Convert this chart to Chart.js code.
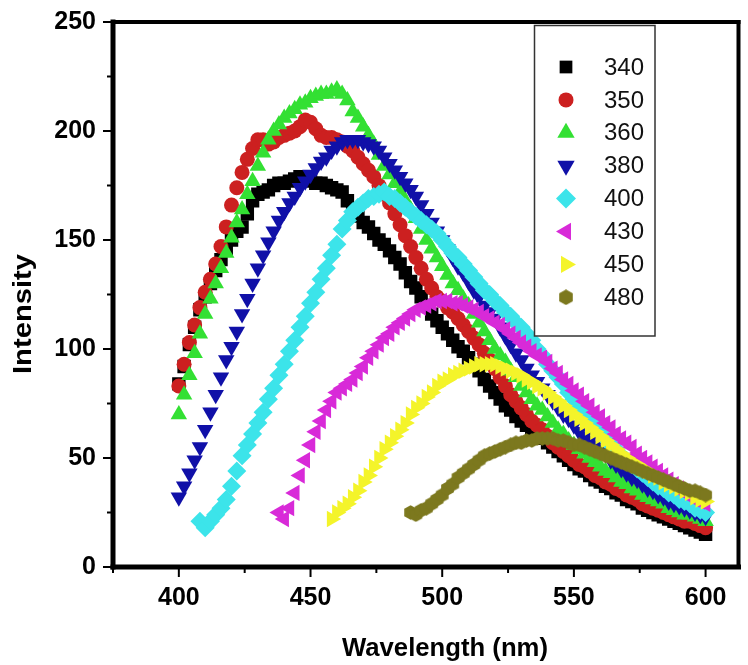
<!DOCTYPE html>
<html>
<head>
<meta charset="utf-8">
<script src="https://cdn.jsdelivr.net/npm/chart.js@4.4.1/dist/chart.umd.min.js"></script>
<style>
  html, body { margin: 0; padding: 0; background: #fff; }
  #chart { display: block; }
</style>
</head>
<body>
<canvas id="chart" width="748" height="665"></canvas>
<script>
// excitation wavelengths (legend entries)
const seriesLabels = ['340', '350', '360', '380', '400', '430', '450', '480'];
// first emission wavelength of each curve, sampled every 2 nm up to 600 nm
const startNm = [400, 400, 400, 400, 408, 438, 458, 488];
const STEP = 2;

const int340 = [84, 92, 102, 110, 118, 124, 130, 136, 141, 146,
  150, 154, 156, 162, 168, 171, 172, 173, 175, 176,
  176, 177, 178, 179, 177, 178, 176, 176, 175, 174,
  173, 172, 168, 164, 161, 158, 156, 153, 150, 148,
  145, 142, 139, 135, 131, 128, 124, 120, 116, 113,
  110, 107, 104, 101, 99, 96, 93, 90, 86, 83,
  80, 77, 74, 72, 69, 67, 65, 63, 61, 59,
  57, 55, 53, 51, 49, 47, 45, 44, 42, 40,
  39, 37, 36, 34, 33, 31, 30, 29, 27, 26,
  25, 24, 23, 22, 21, 20, 19, 18, 17, 16,
  15];
const int350 = [83, 93, 103, 111, 119, 126, 132, 139, 147, 156,
  166, 174, 181, 187, 192, 196, 196, 194, 195, 197,
  198, 199, 200, 202, 205, 204, 201, 198, 197, 197,
  196, 195, 193, 191, 188, 185, 182, 179, 175, 171,
  167, 162, 157, 152, 147, 142, 137, 132, 128, 124,
  122, 119, 117, 114, 111, 108, 105, 102, 98, 95,
  91, 87, 83, 79, 76, 73, 70, 67, 65, 63,
  60, 57, 55, 53, 51, 49, 47, 46, 44, 42,
  41, 39, 38, 36, 35, 33, 32, 31, 29, 28,
  27, 26, 25, 24, 23, 22, 21, 21, 20, 19,
  18];
const int360 = [70, 79, 88, 98, 107, 116, 123, 130, 137, 144,
  151, 158, 164, 171, 177, 184, 190, 196, 200, 203,
  206, 208, 210, 212, 213, 215, 216, 217, 217, 218,
  219, 217, 214, 209, 206, 202, 198, 194, 189, 184,
  180, 176, 172, 168, 164, 160, 155, 150, 146, 142,
  138, 134, 130, 127, 123, 120, 116, 112, 108, 104,
  100, 97, 94, 90, 87, 83, 80, 77, 74, 72,
  69, 66, 63, 61, 58, 56, 54, 52, 50, 48,
  46, 44, 43, 41, 39, 38, 36, 35, 33, 32,
  31, 30, 29, 27, 26, 25, 24, 24, 23, 22,
  21];
const int380 = [32, 37, 43, 49, 55, 63, 71, 79, 87, 95,
  101, 108, 116, 123, 130, 137, 143, 149, 154, 159,
  163, 167, 170, 174, 177, 180, 183, 186, 188, 191,
  193, 195, 196, 196, 196, 195, 194, 193, 191, 188,
  185, 182, 179, 176, 173, 170, 166, 162, 158, 154,
  150, 146, 142, 138, 135, 131, 127, 124, 120, 117,
  114, 110, 106, 102, 98, 95, 91, 88, 85, 82,
  79, 76, 73, 70, 68, 65, 62, 60, 58, 56,
  54, 52, 49, 47, 45, 43, 41, 40, 38, 36,
  35, 33, 32, 30, 29, 28, 27, 26, 25, 24,
  23];
const int400 = [21, 18, 21, 24, 27, 31, 37, 44, 51, 56,
  61, 66, 71, 77, 82, 88, 93, 99, 104, 110,
  115, 121, 126, 132, 137, 143, 148, 155, 159, 163,
  165, 167, 169, 170, 171, 172, 170, 169, 167, 165,
  163, 161, 159, 157, 155, 153, 150, 147, 144, 142,
  139, 136, 133, 130, 127, 125, 122, 120, 117, 115,
  112, 110, 107, 104, 100, 97, 93, 90, 87, 84,
  80, 77, 74, 71, 68, 65, 62, 59, 56, 54,
  51, 49, 47, 45, 43, 41, 39, 37, 36, 34,
  33, 31, 30, 29, 27, 26, 25];
const int430 = [25, 22, 27, 34, 42, 49, 56, 62, 67, 72,
  76, 80, 82, 84, 86, 89, 92, 96, 99, 102,
  105, 107, 110, 112, 114, 116, 118, 119, 120, 121,
  122, 122, 122, 121, 121, 120, 119, 118, 117, 115,
  114, 112, 111, 109, 107, 105, 103, 101, 99, 97,
  96, 94, 91, 89, 86, 84, 81, 79, 76, 74,
  71, 69, 66, 64, 61, 59, 57, 55, 52, 50,
  48, 46, 44, 42, 40, 38, 36, 34, 33, 31,
  30, 29];
const int450 = [22, 25, 27, 29, 32, 35, 39, 42, 46, 50,
  54, 57, 60, 63, 66, 70, 73, 75, 78, 80,
  83, 85, 86, 88, 89, 90, 91, 92, 93, 93,
  93, 93, 92, 91, 90, 89, 88, 86, 85, 83,
  82, 80, 78, 76, 74, 72, 70, 68, 66, 64,
  62, 60, 58, 56, 54, 52, 50, 48, 47, 45,
  44, 42, 41, 39, 38, 37, 36, 35, 34, 32,
  31, 30];
const int480 = [25, 24, 26, 27, 29, 31, 33, 36, 38, 41,
  43, 45, 47, 49, 51, 52, 53, 54, 55, 56,
  57, 57, 58, 58, 59, 59, 59, 59, 58, 58,
  57, 56, 56, 55, 54, 53, 52, 51, 50, 49,
  48, 47, 46, 45, 44, 43, 42, 41, 40, 39,
  38, 37, 36, 35, 35, 34, 33];

const intensities = [int340, int350, int360, int380, int400, int430, int450, int480];

// axis ticks
const xMajorTicks = [400, 450, 500, 550, 600];
const xMinorTicks = [375, 425, 475, 525, 575];
const yMajorTicks = [0, 50, 100, 150, 200, 250];
const yMinorTicks = [25, 75, 125, 175, 225];

const colors = ['#000000', '#cc2020', '#33e033', '#1010a8', '#3ce4ea', '#d82ad8', '#f4f42a', '#7c781e'];
const FONT = '"Liberation Sans", Arial, sans-serif';

function makeHex(size, color) {
  const c = document.createElement('canvas');
  c.width = size; c.height = size;
  const g = c.getContext('2d');
  const r = size / 2;
  g.fillStyle = color;
  g.beginPath();
  for (let i = 0; i < 6; i++) {
    const a = Math.PI / 2 + i * Math.PI / 3;
    const px = r + Math.cos(a) * r * 0.98;
    const py = r + Math.sin(a) * r * 0.98;
    if (i === 0) g.moveTo(px, py); else g.lineTo(px, py);
  }
  g.closePath();
  g.fill();
  return c;
}

const pointStyles = ['rect', 'circle', 'triangle', 'triangle', 'rectRot', 'triangle', 'triangle', makeHex(15, colors[7])];
const legendStyles = ['rect', 'circle', 'triangle', 'triangle', 'rectRot', 'triangle', 'triangle', makeHex(16, colors[7])];
const rotations = [0, 0, 0, 180, 0, 270, 90, 0];
const radii = [9.5, 7.5, 9.5, 9.5, 9.5, 9.5, 9.5, 8];
const legendRadii = [9, 7.5, 10, 10, 10, 10, 10, 8];

const datasets = seriesLabels.map((label, k) => ({
  label: label,
  data: intensities[k].map((v, i) => ({ x: startNm[k] + i * STEP, y: v })),
  backgroundColor: colors[k],
  borderColor: colors[k],
  borderWidth: 0,
  pointStyle: pointStyles[k],
  rotation: rotations[k],
  pointRadius: radii[k],
  pointHoverRadius: radii[k],
  showLine: false,
  order: seriesLabels.length - k
}));

function line(ctx, x1, y1, x2, y2) {
  ctx.beginPath();
  ctx.moveTo(x1, y1);
  ctx.lineTo(x2, y2);
  ctx.stroke();
}

// frame, ticks, axis titles and the boxed legend
const framePlugin = {
  id: 'frame',
  afterDraw(chart) {
    const ctx = chart.ctx;
    const { left, right, top, bottom } = chart.chartArea;
    const xs = chart.scales.x, ys = chart.scales.y;
    ctx.save();
    ctx.strokeStyle = '#000';
    ctx.lineCap = 'square';
    ctx.lineWidth = 4;
    line(ctx, left, top, right, top);
    line(ctx, right, top, right, bottom);
    ctx.lineWidth = 5;
    line(ctx, left, bottom, right, bottom);
    line(ctx, left, top, left, bottom);

    ctx.lineCap = 'butt';
    ctx.lineWidth = 2;
    xMajorTicks.forEach(v => { const p = xs.getPixelForValue(v); line(ctx, p, bottom, p, bottom + 10); });
    xMinorTicks.forEach(v => { const p = xs.getPixelForValue(v); line(ctx, p, bottom, p, bottom + 6); });
    yMajorTicks.forEach(v => { const p = ys.getPixelForValue(v); line(ctx, left - 10, p, left, p); });
    yMinorTicks.forEach(v => { const p = ys.getPixelForValue(v); line(ctx, left - 6, p, left, p); });

    ctx.fillStyle = '#000';
    ctx.font = 'bold 25px ' + FONT;
    ctx.textAlign = 'center';
    ctx.textBaseline = 'alphabetic';
    let w = ctx.measureText('Wavelength (nm)').width;
    ctx.save();
    ctx.translate(445, 656);
    ctx.scale(206 / w, 1);
    ctx.fillText('Wavelength (nm)', 0, 0);
    ctx.restore();

    w = ctx.measureText('Intensity').width;
    ctx.save();
    ctx.translate(31, 314);
    ctx.rotate(-Math.PI / 2);
    ctx.scale(120 / w, 1);
    ctx.fillText('Intensity', 0, 0);
    ctx.restore();

    ctx.lineWidth = 1.5;
    ctx.strokeStyle = '#333';
    ctx.fillStyle = '#fff';
    ctx.fillRect(534, 25, 121, 311);
    ctx.strokeRect(534.5, 25.5, 120.5, 310.5);
    ctx.font = '24px ' + FONT;
    ctx.textAlign = 'left';
    ctx.textBaseline = 'middle';
    seriesLabels.forEach((label, k) => {
      const y = 67 + k * 32.9;
      ctx.fillStyle = colors[k];
      ctx.strokeStyle = colors[k];
      Chart.helpers.drawPoint(ctx, {
        pointStyle: legendStyles[k],
        rotation: rotations[k],
        radius: legendRadii[k],
        borderWidth: 0
      }, 566, y);
      ctx.fillStyle = '#111';
      ctx.fillText(label, 604, y + 1);
    });
    ctx.restore();
  }
};

new Chart(document.getElementById('chart'), {
  type: 'scatter',
  data: { datasets: datasets },
  options: {
    responsive: false,
    animation: false,
    devicePixelRatio: 1,
    layout: { padding: { top: 22, right: 2, left: 0, bottom: 0 } },
    plugins: { legend: { display: false }, tooltip: { enabled: false } },
    scales: {
      x: {
        type: 'linear',
        min: 375,
        max: 612.5,
        afterBuildTicks: s => { s.ticks = xMinorTicks.concat(xMajorTicks).sort((a, b) => a - b).map(v => ({ value: v })); },
        afterFit: s => { s.height = 98; },
        border: { display: false },
        grid: { drawOnChartArea: false, drawTicks: true, tickLength: 10, color: 'rgba(0,0,0,0)', tickColor: 'rgba(0,0,0,0)' },
        ticks: {
          font: { family: FONT, size: 25, weight: 'bold' },
          color: '#000',
          padding: 6,
          maxRotation: 0,
          autoSkip: false,
          callback: v => (xMajorTicks.includes(v) ? String(v) : '')
        }
      },
      y: {
        type: 'linear',
        min: 0,
        max: 250,
        afterBuildTicks: s => { s.ticks = yMinorTicks.concat(yMajorTicks).sort((a, b) => a - b).map(v => ({ value: v })); },
        afterFit: s => { s.width = 113; },
        border: { display: false },
        grid: { drawOnChartArea: false, drawTicks: true, tickLength: 10, color: 'rgba(0,0,0,0)', tickColor: 'rgba(0,0,0,0)' },
        ticks: {
          font: { family: FONT, size: 25, weight: 'bold' },
          color: '#000',
          padding: 7,
          autoSkip: false,
          callback: v => (yMajorTicks.includes(v) ? String(v) : '')
        }
      }
    }
  },
  plugins: [framePlugin]
});
</script>
</body>
</html>
